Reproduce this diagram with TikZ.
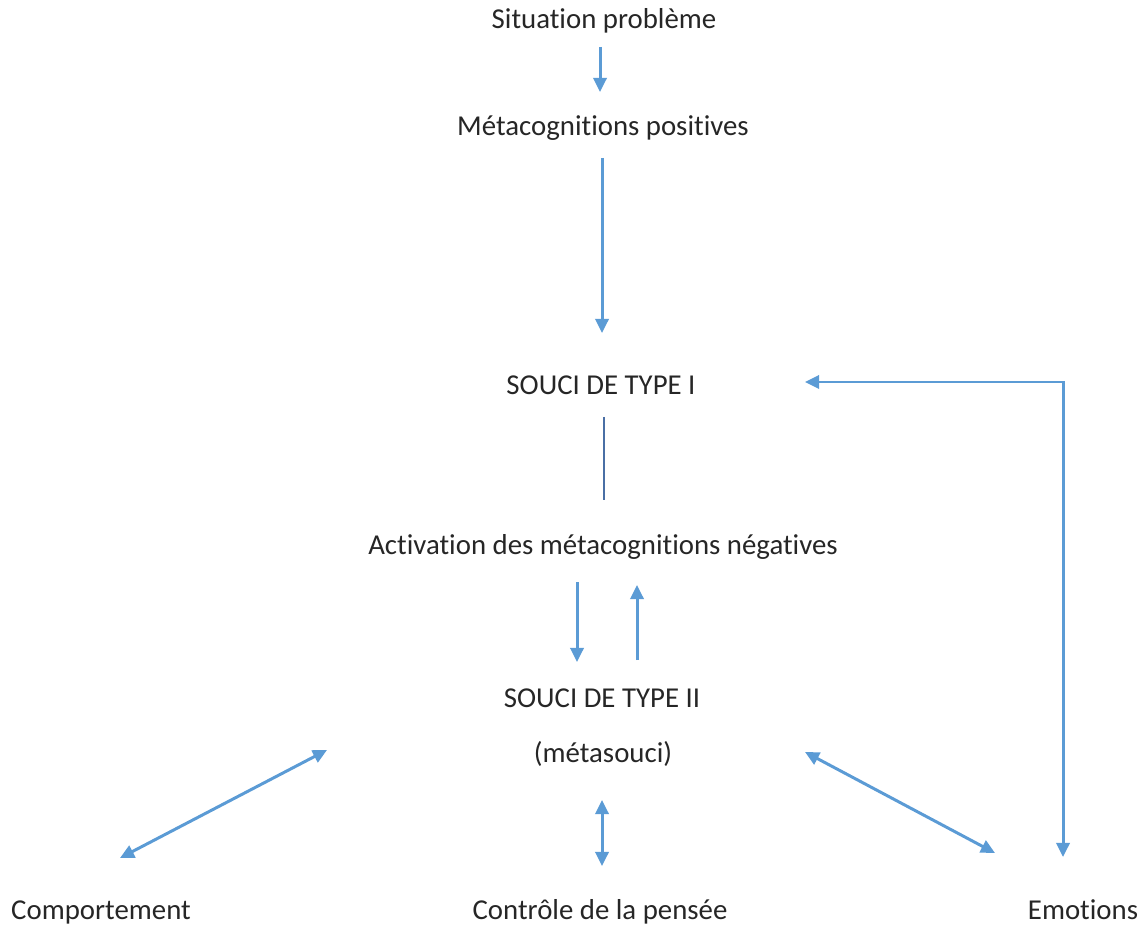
\documentclass[tikz,border=0pt]{standalone}
\usepackage{fontspec}
\setmainfont{Carlito}[RawFeature={-liga;-clig;-calt;-dlig;-rlig}]
\usetikzlibrary{arrows.meta,calc}
\definecolor{arrowblue}{HTML}{5B9BD5}
\definecolor{linkblue}{HTML}{4A6FA5}
\definecolor{txtgray}{HTML}{262626}
\tikzset{
  txt/.style={inner sep=0pt, anchor=base, text=txtgray, font=\fontsize{16.4}{19}\selectfont},
  flow/.style={draw=arrowblue, line width=1.7pt, -{Triangle[length=8pt,width=7.5pt]}},
  biflow/.style={flow, {Triangle[length=8pt,width=7.5pt]}-{Triangle[length=8pt,width=7.5pt]}},
  link/.style={draw=linkblue, line width=0.6pt}
}
\begin{document}
\begin{tikzpicture}[x=0.02cm,y=-0.02cm]
  \useasboundingbox (0,0) rectangle (1148,928);
  % Nodes (placed on their baselines)
  \node[txt] (sit)     at (604,29)  {Situation problème};
  \node[txt] (metapos) at (603,136) {Métacognitions positives};
  \node[txt] (s1)      at (601,395) {SOUCI DE TYPE I};
  \node[txt] (act)     at (603,554) {Activation des métacognitions négatives};
  \node[txt] (s2)      at (602,707) {SOUCI DE TYPE II};
  \node[txt] (meta)    at (603,762) {(métasouci)};
  \node[txt] (comp)    at (101,919) {Comportement};
  \node[txt] (ctrl)    at (600,919) {Contrôle de la pensée};
  \node[txt] (emo)     at (1083,919) {Emotions};
  % Connectors
  \draw[flow] ($(sit.base)+(-4,18)$) -- ($(metapos.base)+(-3,-44)$);
  \draw[flow] ($(metapos.base)+(-1,22)$) -- ($(s1.base)+(1,-62)$);
  \draw[link] ($(s1.base)+(3,22)$) -- ($(act.base)+(1,-54)$);
  \draw[flow] ($(act.base)+(-26,28)$) -- ($(s2.base)+(-25,-45)$);
  \draw[flow] ($(s2.base)+(35,-47)$) -- ($(act.base)+(34,31)$);
  \draw[biflow] ($(comp.base)+(19,-61)$) -- ($(meta.base)+(-276,-12)$);
  \draw[biflow] ($(meta.base)+(-1,38)$) -- ($(ctrl.base)+(2,-53)$);
  \draw[biflow] ($(meta.base)+(202,-10)$) -- ($(emo.base)+(-88,-66)$);
  \draw[biflow] ($(emo.base)+(-20,-62)$) |- ($(s1.base)+(204,-13)$);
\end{tikzpicture}
\end{document}
